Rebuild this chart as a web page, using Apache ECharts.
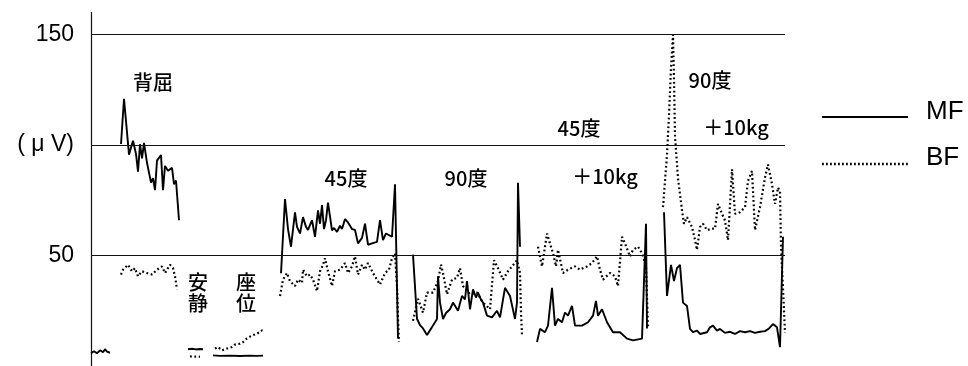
<!DOCTYPE html>
<html>
<head>
<meta charset="utf-8">
<script src="https://cdn.jsdelivr.net/npm/echarts@6/dist/echarts.min.js"></script>
<style>
  html, body { margin: 0; padding: 0; background: #fff; }
  #chart { width: 968px; height: 366px; }
</style>
</head>
<body>
<div id="chart"></div>
<script>
// EMG amplitude (μV) over time for each task; t = sample time along the recording.
// Each block holds [t, μV] pairs. MF = solid trace, BF = dotted trace.

const yTicks = [50, 100, 150];
const yTickLabels = { 50: '50', 100: '( μ V)', 150: '150' };

// rest before the tasks
const restMF = [[0, 5.8], [3, 6.7], [6, 5.8], [9, 7.1], [12, 6.2], [14, 7.6], [16, 6.5], [19, 6.0]];

// 背屈 (dorsiflexion)
const dorsiMF = [[30, 100.5], [33, 121], [38, 95.7], [42, 102], [45, 96], [47, 88], [49, 100.4], [51, 94],
  [53, 101], [56, 92], [60, 83], [62, 85], [64, 79.6], [66, 93], [70, 95.5], [72, 79.6], [74, 90.6],
  [77, 88.4], [81, 89.7], [83, 82.3], [85, 84], [88, 66]];
const dorsiBF = [[30, 41.4], [32, 43.6], [37, 45.8], [41, 42.9], [44, 44.3], [47, 40.6], [51, 42.9],
  [56, 42.1], [61, 41.4], [66, 43.6], [71, 45.1], [74, 42.1], [79, 45.8], [82, 44.3], [84, 40.6], [86, 34.7]];

// 安静 (quiet)
const quietMF = [[97, 7.6], [101, 7.8], [105, 7.5], [109, 7.7], [112, 7.6]];
const quietBF = [[99, 4.4], [102, 4.2], [106, 4.3], [109, 4.2]];

// 座位 (sitting)
const sitMF = [[122, 4.8], [129, 4.6], [139, 4.7], [149, 4.5], [159, 4.7], [166, 4.6], [172, 4.7]];
const sitBF = [[124, 7.9], [127, 8.6], [131, 7.1], [136, 7.9], [141, 8.6], [144, 9.7], [149, 10.1],
  [152, 10.8], [156, 12.5], [161, 13.8], [166, 14.6], [171, 16.1], [174, 15.6]];

// 45度
const deg45MF = [[190, 42], [194, 75.6], [197, 62], [200, 54], [204, 69.6], [206, 63], [209, 60],
  [212, 67.4], [215, 63], [217, 61.6], [221, 66], [224, 58.5], [227, 70.5], [229, 64.4], [231, 72.8],
  [233, 62], [235, 66], [237, 74], [241, 61.4], [243, 62.5], [246, 60.7], [249, 63.5], [251, 62],
  [254, 66.5], [257, 65], [261, 62], [264, 61.6], [267, 55.5], [271, 58], [274, 64.4], [277, 54.9],
  [281, 55.5], [286, 56.2], [289, 66], [292, 57], [295, 60], [297, 59.4], [301, 58.5], [304, 82.3],
  [307, 12.5]];
const deg45BF = [[189, 31.7], [192, 39.1], [196, 42.1], [199, 38.4], [204, 36.2], [207, 39.1],
  [211, 37.6], [212, 43.6], [216, 40.6], [219, 41.4], [222, 39.1], [226, 33.9], [229, 42.9],
  [232, 45.8], [234, 48.8], [237, 42.9], [241, 36.2], [244, 42.9], [249, 43.6], [254, 46.6],
  [257, 42.1], [261, 45.1], [264, 49.6], [267, 41.4], [271, 45.8], [274, 43.6], [277, 46.6],
  [282, 42.1], [286, 39.1], [289, 36.9], [294, 42.1], [298, 43.6], [301, 48.8], [304, 51],
  [306, 36.2], [307, 21.3], [308, 10.9]];

// 90度
const deg90MF = [[322, 50.4], [326, 21.4], [329, 18.5], [332, 17], [336, 14], [341, 17.6], [346, 21.3],
  [347, 40.6], [349, 28.7], [352, 21.3], [355, 24], [359, 25.7], [362, 28.7], [367, 25], [371, 31.7],
  [374, 30.2], [376, 38.4], [379, 25.7], [382, 34.7], [385, 31], [387, 33.2], [390, 30], [392, 28.7],
  [396, 22.8], [401, 22], [406, 25], [409, 22], [414, 35.4], [419, 31.7], [424, 21.3], [426, 28.7],
  [427, 83], [429, 54]];
const deg90BF = [[322, 20.5], [327, 30.4], [332, 24.2], [336, 33.2], [342, 33.2], [347, 38.4],
  [350, 45.9], [352, 42.1], [356, 32.5], [361, 39.1], [366, 39.9], [369, 44.3], [372, 36.2],
  [379, 32.5], [386, 33.2], [392, 28.7], [399, 25.7], [403, 47.9], [407, 44.3], [412, 39.1],
  [417, 42.9], [421, 45.1], [426, 47.9], [429, 42.1], [430, 24.2], [431, 14]];

// 45度 ＋10kg
const deg45kgMF = [[446, 10.9], [449, 16.8], [454, 15.3], [457, 18.3], [461, 35.4], [464, 18.3],
  [467, 21.3], [471, 19.8], [474, 24.2], [477, 22.8], [481, 27.2], [484, 18.3], [491, 18.3],
  [497, 19.8], [502, 22.8], [505, 29.5], [507, 22.8], [511, 25.7], [516, 19.8], [522, 15.3],
  [529, 15.3], [536, 12.4], [542, 11.6], [551, 12.4], [555, 64.4], [556, 17]];
const deg45kgBF = [[447, 54], [451, 45.1], [456, 60], [459, 55.5], [462, 51.1], [465, 45.1],
  [467, 52.6], [472, 42.1], [477, 43.6], [484, 45.1], [489, 43.6], [496, 45.1], [501, 46.6],
  [506, 49.6], [509, 43.6], [512, 39.1], [519, 42.1], [524, 40.6], [527, 36.2], [531, 58.5],
  [534, 55.5], [539, 49.6], [542, 52.6], [547, 54], [551, 51.1], [555, 45.1], [557, 16.8]];

// 90度 ＋10kg
const deg90kgMF = [[573, 69.6], [576, 31.7], [580, 45.8], [583, 38.5], [586, 44.3], [589, 45.8],
  [592, 28.7], [596, 27.2], [599, 16.8], [602, 15.3], [606, 16], [609, 14.5], [616, 15.3],
  [619, 17.5], [622, 18.3], [626, 16], [629, 16.8], [634, 15], [639, 15.5], [644, 14.5], [649, 15.8],
  [654, 15.3], [659, 15.8], [664, 15], [669, 15.5], [674, 15.8], [678, 17], [682, 19], [686, 17.5],
  [689, 8.5], [692, 58.5]];
const deg90kgBF = [[572, 71.9], [576, 95.7], [578, 113.5], [580, 135], [582, 150], [583, 130],
  [584, 104], [587, 85], [591, 70.5], [593, 64.4], [596, 67.4], [601, 62.9], [604, 57], [606, 52.6],
  [609, 62.9], [612, 64.4], [616, 61.5], [621, 62.2], [624, 62.2], [627, 73.4], [631, 68.9],
  [634, 65.9], [637, 57], [641, 89], [644, 68.9], [649, 69.6], [654, 71.9], [657, 83.8], [661, 88.3],
  [664, 61.5], [669, 71.9], [674, 85.3], [677, 91.2], [681, 82.3], [684, 73.4], [687, 80.8],
  [689, 79], [690, 54], [692, 35], [694, 15]];

const mfBlocks = [restMF, dorsiMF, quietMF, sitMF, deg45MF, deg90MF, deg45kgMF, deg90kgMF];
const bfBlocks = [dorsiBF, quietBF, sitBF, deg45BF, deg90BF, deg45kgBF, deg90kgBF];

const FONT = '"Liberation Sans", Arial, "Noto Sans CJK JP", sans-serif';
const CJK = '"Noto Sans CJK JP", "Liberation Sans", sans-serif';

const mfStyle = { color: '#000', width: 1.9, type: 'solid' };
const bfStyle = { color: '#000', width: 2.2, type: [1.8, 2.6] };

function lineSeries(name, data, style) {
  return {
    name: name, type: 'line', data: data, showSymbol: false, symbol: 'none',
    lineStyle: style, itemStyle: { color: style.color }, silent: true, clip: true
  };
}

const series = [];
mfBlocks.forEach(d => series.push(lineSeries('MF', d, mfStyle)));
bfBlocks.forEach(d => series.push(lineSeries('BF', d, bfStyle)));

// horizontal reference lines at the labelled ticks
series[0].markLine = {
  silent: true, symbol: 'none', animation: false,
  label: { show: false },
  lineStyle: { color: '#111', width: 1, type: 'solid' },
  data: yTicks.map(v => ({ yAxis: v }))
};

// task captions
const captions = [
  ['背屈', 153, 82], ['安\n静', 198, 293], ['座\n位', 246, 293],
  ['45度', 346, 178], ['90度', 466, 178],
  ['45度', 579, 128], ['＋10kg', 605, 176],
  ['90度', 710, 80], ['＋10kg', 736, 127]
];

const graphics = captions.map(c => ({
  type: 'text', x: c[1], y: c[2], silent: true,
  style: { text: c[0], fill: '#000', font: '500 20px ' + CJK, align: 'center', verticalAlign: 'middle', lineHeight: 21 }
}));

// legend keys
graphics.push(
  { type: 'line', shape: { x1: 822, y1: 117, x2: 908, y2: 117 }, style: { stroke: '#000', lineWidth: 2 } },
  { type: 'line', shape: { x1: 822, y1: 164, x2: 908, y2: 164 }, style: { stroke: '#000', lineWidth: 2.3, lineDash: [1.8, 2.2] } },
  { type: 'text', x: 926, y: 112, style: { text: 'MF', fill: '#000', font: '26px ' + FONT, verticalAlign: 'middle' } },
  { type: 'text', x: 926, y: 158, style: { text: 'BF', fill: '#000', font: '26px ' + FONT, verticalAlign: 'middle' } }
);

const chart = echarts.init(document.getElementById('chart'), null, { renderer: 'canvas' });
chart.setOption({
  animation: false,
  backgroundColor: '#fff',
  grid: { left: 91, right: 183, top: 12.6, bottom: -5, containLabel: false },
  xAxis: { type: 'value', min: 0, max: 694, show: false },
  yAxis: {
    type: 'value', min: 0, max: 160, interval: 50,
    axisLine: { show: true, lineStyle: { color: '#111', width: 1.2 } },
    axisTick: { show: false },
    splitLine: { show: false },
    axisLabel: {
      margin: 17, color: '#000', fontSize: 23, fontFamily: FONT,
      formatter: v => (yTicks.indexOf(v) >= 0 ? yTickLabels[v] : '')
    }
  },
  series: series,
  graphic: graphics
});
</script>
</body>
</html>
